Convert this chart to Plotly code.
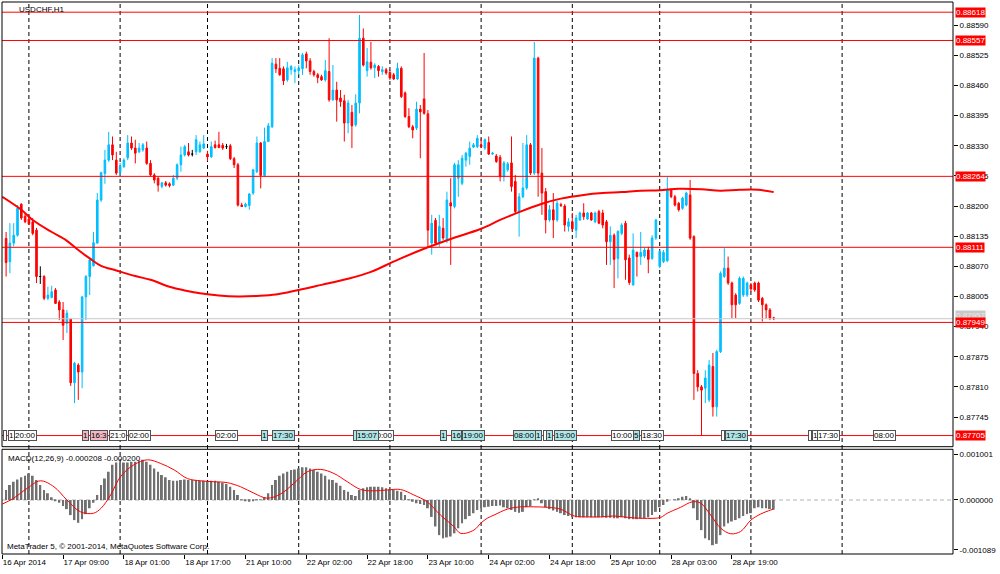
import plotly.graph_objects as go

# USDCHF H1, MetaTrader 5 style chart
# x axis = bar number (weekends are skipped like in MT5)

bars = list(range(1, 204))

open_ = [
    0.88130, 0.88080, 0.88120, 0.88137, 0.88204, 0.88178, 0.88172, 0.88166, 0.88148, 0.88048,
    0.88048, 0.88001, 0.88003, 0.88019, 0.87993, 0.87976, 0.87947, 0.87956, 0.87819, 0.87857,
    0.87842, 0.88004, 0.88048, 0.88071, 0.88120, 0.88213, 0.88270, 0.88299, 0.88332, 0.88299,
    0.88272, 0.88285, 0.88304, 0.88336, 0.88325, 0.88317, 0.88321, 0.88325, 0.88292, 0.88267,
    0.88260, 0.88242, 0.88250, 0.88248, 0.88245, 0.88260, 0.88289, 0.88310, 0.88317, 0.88312,
    0.88317, 0.88317, 0.88325, 0.88312, 0.88306, 0.88332, 0.88332, 0.88331, 0.88328, 0.88330,
    0.88302, 0.88289, 0.88202, 0.88199, 0.88201, 0.88228, 0.88274, 0.88336, 0.88266, 0.88339,
    0.88371, 0.88506, 0.88497, 0.88496, 0.88472, 0.88494, 0.88490, 0.88492, 0.88496, 0.88528,
    0.88513, 0.88490, 0.88483, 0.88479, 0.88472, 0.88490, 0.88429, 0.88450, 0.88433, 0.88427,
    0.88379, 0.88402, 0.88375, 0.88422, 0.88562, 0.88492, 0.88510, 0.88498, 0.88501, 0.88490,
    0.88494, 0.88488, 0.88483, 0.88474, 0.88497, 0.88444, 0.88393, 0.88371, 0.88368, 0.88409,
    0.88431, 0.88399, 0.88120, 0.88169, 0.88120, 0.88152, 0.88127, 0.88207, 0.88199, 0.88260,
    0.88249, 0.88299, 0.88307, 0.88327, 0.88328, 0.88332, 0.88325, 0.88337, 0.88312, 0.88308,
    0.88305, 0.88263, 0.88278, 0.88293, 0.88253, 0.88188, 0.88220, 0.88239, 0.88332, 0.88271,
    0.88519, 0.88271, 0.88231, 0.88170, 0.88192, 0.88170, 0.88203, 0.88200, 0.88156, 0.88166,
    0.88148, 0.88170, 0.88185, 0.88172, 0.88185, 0.88166, 0.88188, 0.88185, 0.88166, 0.88123,
    0.88137, 0.88087, 0.88141, 0.88163, 0.88088, 0.88030, 0.88100, 0.88091, 0.88092, 0.88105,
    0.88087, 0.88131, 0.88070, 0.88080, 0.88082, 0.88235, 0.88220, 0.88206, 0.88195, 0.88202,
    0.88224, 0.88134, 0.87839, 0.87810, 0.87807, 0.87782, 0.87854, 0.87767, 0.87886, 0.88048,
    0.88066, 0.88034, 0.88008, 0.87990, 0.88008, 0.88008, 0.88030, 0.88034, 0.88034, 0.88001,
    0.87987, 0.87976, 0.87959,
]
high = [
    0.88144, 0.88163, 0.88163, 0.88202, 0.88206, 0.88185, 0.88181, 0.88174, 0.88153, 0.88070,
    0.88051, 0.88026, 0.88028, 0.88023, 0.87997, 0.87993, 0.87976, 0.87957, 0.87864, 0.87861,
    0.88006, 0.88051, 0.88087, 0.88144, 0.88228, 0.88274, 0.88321, 0.88360, 0.88350, 0.88317,
    0.88293, 0.88303, 0.88353, 0.88350, 0.88343, 0.88336, 0.88336, 0.88339, 0.88299, 0.88271,
    0.88263, 0.88252, 0.88254, 0.88251, 0.88267, 0.88292, 0.88328, 0.88332, 0.88336, 0.88321,
    0.88353, 0.88339, 0.88353, 0.88319, 0.88339, 0.88341, 0.88360, 0.88336, 0.88334, 0.88334,
    0.88306, 0.88293, 0.88207, 0.88207, 0.88228, 0.88280, 0.88350, 0.88338, 0.88369, 0.88379,
    0.88519, 0.88519, 0.88519, 0.88501, 0.88511, 0.88504, 0.88501, 0.88504, 0.88530, 0.88533,
    0.88519, 0.88494, 0.88487, 0.88483, 0.88515, 0.88562, 0.88504, 0.88468, 0.88450, 0.88440,
    0.88429, 0.88418, 0.88441, 0.88612, 0.88583, 0.88541, 0.88554, 0.88508, 0.88504, 0.88501,
    0.88498, 0.88494, 0.88487, 0.88509, 0.88501, 0.88447, 0.88411, 0.88375, 0.88425, 0.88418,
    0.88530, 0.88407, 0.88181, 0.88174, 0.88181, 0.88174, 0.88231, 0.88260, 0.88293, 0.88299,
    0.88310, 0.88317, 0.88339, 0.88336, 0.88353, 0.88346, 0.88346, 0.88350, 0.88317, 0.88312,
    0.88310, 0.88297, 0.88295, 0.88350, 0.88267, 0.88228, 0.88336, 0.88353, 0.88336, 0.88554,
    0.88522, 0.88325, 0.88239, 0.88202, 0.88228, 0.88211, 0.88207, 0.88204, 0.88174, 0.88185,
    0.88181, 0.88188, 0.88206, 0.88187, 0.88187, 0.88188, 0.88192, 0.88192, 0.88170, 0.88156,
    0.88141, 0.88148, 0.88163, 0.88168, 0.88095, 0.88141, 0.88102, 0.88144, 0.88110, 0.88112,
    0.88137, 0.88172, 0.88105, 0.88105, 0.88263, 0.88238, 0.88224, 0.88209, 0.88220, 0.88231,
    0.88256, 0.88137, 0.87846, 0.87814, 0.87846, 0.87868, 0.87883, 0.87890, 0.88059, 0.88109,
    0.88091, 0.88037, 0.88012, 0.88048, 0.88048, 0.88037, 0.88034, 0.88037, 0.88037, 0.88004,
    0.87990, 0.87980, 0.87961,
]
low = [
    0.88048, 0.88055, 0.88113, 0.88134, 0.88170, 0.88163, 0.88159, 0.88137, 0.88034, 0.88032,
    0.87997, 0.87997, 0.88001, 0.87989, 0.87954, 0.87911, 0.87926, 0.87812, 0.87775, 0.87782,
    0.87807, 0.87954, 0.88008, 0.88070, 0.88120, 0.88209, 0.88248, 0.88295, 0.88299, 0.88267,
    0.88265, 0.88282, 0.88299, 0.88321, 0.88292, 0.88314, 0.88317, 0.88289, 0.88263, 0.88249,
    0.88231, 0.88238, 0.88242, 0.88240, 0.88243, 0.88256, 0.88274, 0.88307, 0.88307, 0.88307,
    0.88310, 0.88315, 0.88323, 0.88297, 0.88304, 0.88324, 0.88325, 0.88321, 0.88323, 0.88299,
    0.88282, 0.88199, 0.88198, 0.88197, 0.88192, 0.88224, 0.88271, 0.88238, 0.88263, 0.88338,
    0.88368, 0.88487, 0.88481, 0.88461, 0.88468, 0.88483, 0.88465, 0.88483, 0.88483, 0.88497,
    0.88483, 0.88479, 0.88465, 0.88470, 0.88468, 0.88425, 0.88427, 0.88382, 0.88414, 0.88339,
    0.88357, 0.88325, 0.88371, 0.88400, 0.88501, 0.88479, 0.88494, 0.88476, 0.88479, 0.88483,
    0.88483, 0.88472, 0.88472, 0.88472, 0.88433, 0.88390, 0.88368, 0.88346, 0.88364, 0.88303,
    0.88397, 0.88112, 0.88095, 0.88116, 0.88112, 0.88127, 0.88120, 0.88073, 0.88195, 0.88220,
    0.88245, 0.88285, 0.88289, 0.88325, 0.88325, 0.88325, 0.88321, 0.88310, 0.88310, 0.88293,
    0.88253, 0.88253, 0.88274, 0.88231, 0.88185, 0.88134, 0.88217, 0.88235, 0.88267, 0.88267,
    0.88220, 0.88181, 0.88141, 0.88166, 0.88131, 0.88166, 0.88198, 0.88145, 0.88145, 0.88146,
    0.88131, 0.88168, 0.88170, 0.88170, 0.88168, 0.88163, 0.88161, 0.88152, 0.88073, 0.88073,
    0.88023, 0.88044, 0.88137, 0.88041, 0.88030, 0.88028, 0.88048, 0.88073, 0.88088, 0.88055,
    0.88084, 0.88127, 0.88066, 0.88077, 0.88079, 0.88217, 0.88199, 0.88188, 0.88192, 0.88199,
    0.88127, 0.87782, 0.87800, 0.87705, 0.87775, 0.87777, 0.87746, 0.87746, 0.87883, 0.88045,
    0.88030, 0.87958, 0.87958, 0.87987, 0.88004, 0.88004, 0.88015, 0.88015, 0.87993, 0.87951,
    0.87958, 0.87954, 0.87954,
]
close = [
    0.88078, 0.88120, 0.88137, 0.88195, 0.88174, 0.88166, 0.88161, 0.88141, 0.88048, 0.88048,
    0.88001, 0.88008, 0.88015, 0.87990, 0.87976, 0.87943, 0.87969, 0.87819, 0.87861, 0.87842,
    0.88004, 0.88048, 0.88084, 0.88121, 0.88213, 0.88272, 0.88299, 0.88332, 0.88310, 0.88271,
    0.88286, 0.88299, 0.88336, 0.88325, 0.88314, 0.88325, 0.88332, 0.88292, 0.88267, 0.88256,
    0.88245, 0.88250, 0.88245, 0.88244, 0.88260, 0.88289, 0.88310, 0.88328, 0.88310, 0.88312,
    0.88343, 0.88332, 0.88334, 0.88306, 0.88328, 0.88326, 0.88326, 0.88325, 0.88328, 0.88302,
    0.88289, 0.88202, 0.88199, 0.88204, 0.88226, 0.88278, 0.88336, 0.88266, 0.88339, 0.88373,
    0.88508, 0.88496, 0.88483, 0.88470, 0.88498, 0.88501, 0.88494, 0.88497, 0.88526, 0.88513,
    0.88490, 0.88483, 0.88477, 0.88472, 0.88492, 0.88429, 0.88450, 0.88429, 0.88425, 0.88379,
    0.88422, 0.88373, 0.88422, 0.88562, 0.88504, 0.88511, 0.88498, 0.88504, 0.88492, 0.88494,
    0.88487, 0.88476, 0.88474, 0.88497, 0.88436, 0.88393, 0.88371, 0.88364, 0.88409, 0.88403,
    0.88400, 0.88148, 0.88163, 0.88120, 0.88156, 0.88131, 0.88213, 0.88200, 0.88289, 0.88289,
    0.88303, 0.88314, 0.88325, 0.88332, 0.88346, 0.88328, 0.88343, 0.88312, 0.88314, 0.88296,
    0.88263, 0.88293, 0.88291, 0.88242, 0.88188, 0.88220, 0.88239, 0.88332, 0.88271, 0.88519,
    0.88271, 0.88228, 0.88170, 0.88192, 0.88170, 0.88206, 0.88201, 0.88159, 0.88166, 0.88151,
    0.88174, 0.88185, 0.88177, 0.88185, 0.88170, 0.88185, 0.88163, 0.88159, 0.88123, 0.88137,
    0.88085, 0.88145, 0.88159, 0.88084, 0.88035, 0.88105, 0.88091, 0.88100, 0.88105, 0.88085,
    0.88131, 0.88170, 0.88102, 0.88100, 0.88235, 0.88220, 0.88202, 0.88192, 0.88217, 0.88228,
    0.88131, 0.87839, 0.87810, 0.87803, 0.87829, 0.87857, 0.87767, 0.87886, 0.88055, 0.88066,
    0.88034, 0.87987, 0.87987, 0.88044, 0.88044, 0.88034, 0.88021, 0.88019, 0.87997, 0.87987,
    0.87976, 0.87958, 0.87957,
]

# moving average drawn on the price chart (read at a few bars)
ma_bar = [0, 5, 8, 13, 17, 20, 23, 26, 30, 35, 39, 44, 48, 52, 57, 62, 67, 72, 78, 84, 91,
          97, 104, 112, 118, 126, 131, 136, 142, 147, 153, 158, 163, 168, 173, 178, 184,
          189, 194, 199, 203]
ma_val = [0.88220, 0.88192, 0.88170, 0.88144, 0.88125, 0.88105, 0.88087, 0.88071, 0.88061,
          0.88049, 0.88041, 0.88026, 0.88018, 0.88012, 0.88007, 0.88005, 0.88006, 0.88009,
          0.88019, 0.88030, 0.88043, 0.88058, 0.88084, 0.88111, 0.88129, 0.88151, 0.88170,
          0.88187, 0.88205, 0.88216, 0.88224, 0.88228, 0.88230, 0.88233, 0.88234, 0.88237,
          0.88236, 0.88233, 0.88235, 0.88235, 0.88230]

# MACD(12,26,9) main line, one value per bar
macd_hist = [
    0.00022, 0.00033, 0.00040, 0.00045, 0.00050, 0.00053, 0.00058, 0.00053, 0.00044, 0.00033,
    0.00022, 0.00015, 0.00006, -0.00001, -0.00006, -0.00013, -0.00020, -0.00033, -0.00044, -0.00050,
    -0.00042, -0.00031, -0.00018, -0.00006, 0.00011, 0.00033, 0.00047, 0.00062, 0.00077, 0.00082,
    0.00082, 0.00082, 0.00082, 0.00084, 0.00084, 0.00086, 0.00088, 0.00084, 0.00077, 0.00069,
    0.00062, 0.00055, 0.00050, 0.00044, 0.00042, 0.00042, 0.00044, 0.00045, 0.00044, 0.00044,
    0.00044, 0.00042, 0.00042, 0.00042, 0.00042, 0.00042, 0.00040, 0.00038, 0.00035, 0.00029,
    0.00022, 0.00011, 0.00001, -0.00002, -0.00004, -0.00001, 0.00001, 0.00001, 0.00006, 0.00015,
    0.00033, 0.00044, 0.00053, 0.00058, 0.00062, 0.00066, 0.00067, 0.00069, 0.00072, 0.00072,
    0.00069, 0.00066, 0.00062, 0.00058, 0.00053, 0.00045, 0.00044, 0.00038, 0.00031, 0.00022,
    0.00018, 0.00011, 0.00009, 0.00022, 0.00026, 0.00028, 0.00029, 0.00029, 0.00029, 0.00028,
    0.00026, 0.00023, 0.00022, 0.00020, 0.00018, 0.00011, 0.00001, -0.00004, -0.00007, -0.00009,
    -0.00011, -0.00018, -0.00037, -0.00058, -0.00077, -0.00084, -0.00082, -0.00080, -0.00073, -0.00062,
    -0.00051, -0.00042, -0.00035, -0.00029, -0.00022, -0.00018, -0.00016, -0.00015, -0.00013, -0.00013,
    -0.00012, -0.00016, -0.00018, -0.00022, -0.00026, -0.00028, -0.00026, -0.00016, -0.00013, 0.00001,
    0.00002, -0.00007, -0.00016, -0.00020, -0.00023, -0.00026, -0.00029, -0.00033, -0.00035, -0.00038,
    -0.00038, -0.00038, -0.00038, -0.00038, -0.00038, -0.00038, -0.00038, -0.00038, -0.00039, -0.00039,
    -0.00040, -0.00040, -0.00038, -0.00040, -0.00042, -0.00042, -0.00042, -0.00041, -0.00040, -0.00038,
    -0.00033, -0.00026, -0.00016, -0.00011, -0.00004, 0.00000, 0.00001, 0.00004, 0.00007, 0.00009,
    0.00004, -0.00018, -0.00044, -0.00066, -0.00084, -0.00088, -0.00099, -0.00096, -0.00077, -0.00058,
    -0.00051, -0.00047, -0.00044, -0.00040, -0.00035, -0.00031, -0.00029, -0.00018, -0.00016, -0.00018,
    -0.00018, -0.00020, -0.000208,
]

# MACD signal line (read at a few positions)
sig_bar = [0, 3, 6.6, 10, 13.6, 17, 20.6, 24, 26, 28.5, 31.1, 34.6, 38.2, 41.7, 45.2, 48.7,
           52.2, 55.7, 59.2, 62.7, 66.2, 69.7, 73.2, 76.8, 80.3, 83.8, 87.3, 90.8, 94.3, 97.8,
           101.3, 104.8, 108.3, 111.8, 115.3, 118.8, 120.6, 124.1, 125.9, 127.6, 129.4, 132.9,
           136.4, 139.9, 143.4, 146.9, 150.5, 154, 157.5, 161, 164.5, 168, 171.5, 173.3, 175,
           178.5, 181.6, 183.8, 186.4, 189.1, 191.7, 194.3, 197, 199.5, 202.2, 203]
sig_val = [-0.00009, 0.00004, 0.00026, 0.00042, 0.00029, 0.00000, -0.00026, -0.00029, -0.00018,
           0.00011, 0.00051, 0.00077, 0.00088, 0.00080, 0.00066, 0.00047, 0.00042, 0.00040,
           0.00038, 0.00029, 0.00015, 0.00004, 0.00013, 0.00037, 0.00062, 0.00067, 0.00058,
           0.00040, 0.00023, 0.00020, 0.00022, 0.00023, 0.00011, -0.00004, -0.00033, -0.00058,
           -0.00073, -0.00066, -0.00051, -0.00040, -0.00033, -0.00020, -0.00015, -0.00015,
           -0.00016, -0.00020, -0.00035, -0.00037, -0.00037, -0.00035, -0.00038, -0.00040,
           -0.00040, -0.00038, -0.00029, -0.00016, -0.00004, -0.00007, -0.00033, -0.00062,
           -0.00074, -0.00069, -0.00044, -0.00031, -0.00022, -0.00020]

# horizontal lines
red_levels = [0.88618, 0.88557, 0.88264, 0.88111, 0.87949, 0.87705]
bid_level = 0.87957

# day separators (midnight bars)
day_bars = [7, 31, 54, 78, 102, 126, 150, 173, 197, 221]

# time axis
tick_bars = [0, 16, 32, 48, 64, 80, 96, 112, 128, 144, 160, 176, 192]
tick_text = ["16 Apr 2014", "17 Apr 09:00", "18 Apr 01:00", "18 Apr 17:00", "21 Apr 10:00",
             "22 Apr 02:00", "22 Apr 18:00", "23 Apr 10:00", "24 Apr 02:00", "24 Apr 18:00",
             "25 Apr 10:00", "28 Apr 03:00", "28 Apr 19:00"]

price_ticks = [0.88590, 0.88525, 0.88460, 0.88395, 0.88330, 0.88265, 0.88200, 0.88135,
               0.88070, 0.88005, 0.87940, 0.87875, 0.87810, 0.87745]
macd_ticks = [0.001001, 0.0, -0.001089]
macd_tick_text = ["0.001001", "0.000000", "-0.001089"]

# economic calendar markers (drawing order, later ones on top)
event_bar = [0.3, 1.4, 3.2, 21.1, 23.0, 28.0, 33.2, 56.1, 68.2, 71.1, 92.2, 97.0, 93.2,
             115.1, 118.0, 121.1, 134.3, 140.1, 142.2, 143.2, 145.1, 160.1, 165.9, 168.0,
             189.0, 190.1, 211.9, 213.2, 214.5, 229.0]
event_text = [" ", "1", "20:00", "1", "16:3", "21:0", "02:00", "02:00", "1", "17:30", " ",
              "20:00", "15:07", "1", "16", "19:00", "08:00", "1", " ", "1", "19:00", "10:00",
              "5", "18:30", " ", "17:30", " ", "1", "17:30", "08:00"]
event_kind = ["w", "w", "w", "p", "p", "w", "w", "w", "c", "c", "c", "w", "c", "c", "c", "c",
              "c", "c", "w", "c", "c", "w", "c", "w", "w", "c", "w", "w", "w", "w"]
kind_color = {"w": "#ffffff", "p": "#f4b8c2", "c": "#aee6e8"}

UP = "#00bfff"
DOWN = "#ff0000"
FONT = "Liberation Sans"

fig = go.Figure()

normal = [i for i in range(len(bars)) if open_[i] != close[i]]
doji = [i for i in range(len(bars)) if open_[i] == close[i]]

fig.add_trace(go.Candlestick(
    x=[bars[i] for i in normal],
    open=[open_[i] for i in normal], high=[high[i] for i in normal],
    low=[low[i] for i in normal], close=[close[i] for i in normal],
    increasing=dict(line=dict(color=UP, width=1), fillcolor=UP),
    decreasing=dict(line=dict(color=DOWN, width=1), fillcolor=DOWN),
    whiskerwidth=0, xaxis="x", yaxis="y"))

fig.add_trace(go.Candlestick(
    x=[bars[i] for i in doji],
    open=[open_[i] for i in doji], high=[high[i] for i in doji],
    low=[low[i] for i in doji], close=[close[i] for i in doji],
    increasing=dict(line=dict(color="black", width=1), fillcolor="black"),
    decreasing=dict(line=dict(color="black", width=1), fillcolor="black"),
    whiskerwidth=0, xaxis="x", yaxis="y"))

fig.add_trace(go.Scatter(x=ma_bar, y=ma_val, mode="lines",
                         line=dict(color=DOWN, width=2, shape="spline"),
                         xaxis="x", yaxis="y"))

fig.add_trace(go.Bar(x=bars, y=macd_hist, width=0.5, marker=dict(color="#707070", line_width=0),
                     xaxis="x", yaxis="y2"))
fig.add_trace(go.Scatter(x=sig_bar, y=sig_val, mode="lines",
                         line=dict(color=DOWN, width=1, shape="spline"),
                         xaxis="x", yaxis="y2"))

shapes = []
for b in day_bars:
    shapes.append(dict(type="line", xref="x", yref="paper", x0=b, x1=b, y0=0, y1=1,
                       line=dict(color="black", width=1, dash="4px,3px"), layer="below"))
shapes.append(dict(type="line", xref="x domain", yref="y2", x0=0, x1=1, y0=0, y1=0,
                   line=dict(color="#b4b4b4", width=1, dash="4px,3px"), layer="below"))
shapes.append(dict(type="line", xref="x domain", yref="y", x0=0, x1=1, y0=bid_level,
                   y1=bid_level, line=dict(color="#c8c8c8", width=1)))
for lv in red_levels:
    shapes.append(dict(type="line", xref="x domain", yref="y", x0=0, x1=1, y0=lv, y1=lv,
                       line=dict(color=DOWN, width=1)))
for yd in ["y domain", "y2 domain"]:
    shapes.append(dict(type="rect", xref="x domain", yref=yd, x0=0, x1=1, y0=0, y1=1,
                       line=dict(color="black", width=1), fillcolor="rgba(0,0,0,0)"))

annotations = []
for b, t, k in zip(event_bar, event_text, event_kind):
    annotations.append(dict(x=b, y=0.87705, xref="x", yref="y", xanchor="left",
                            yanchor="middle", text=t, showarrow=False,
                            font=dict(family=FONT, size=8, color="black"),
                            bgcolor=kind_color[k], bordercolor="#505050", borderwidth=1,
                            borderpad=0))

annotations.append(dict(x=1, y=bid_level, xref="paper", yref="y", xanchor="left", xshift=2,
                        yanchor="bottom", yshift=-2, text="0.87957", showarrow=False,
                        font=dict(family=FONT, size=8, color="#e8e8e8"),
                        bgcolor="#c8c8c8", borderpad=0))
for lv in red_levels:
    annotations.append(dict(x=1, y=lv, xref="paper", yref="y", xanchor="left", xshift=2,
                            yanchor="middle", text=f"{lv:.5f}", showarrow=False,
                            font=dict(family=FONT, size=8, color="white"),
                            bgcolor=DOWN, borderpad=0))

annotations.append(dict(x=0.0158, y=0.9864, xref="paper", yref="paper", xanchor="left",
                        yanchor="middle", text="USDCHF,H1", showarrow=False,
                        font=dict(family=FONT, size=8, color="black")))
annotations.append(dict(x=0.0042, y=0.1739, xref="paper", yref="paper", xanchor="left",
                        yanchor="middle", text="MACD(12,26,9) -0.000208 -0.000200",
                        showarrow=False, font=dict(family=FONT, size=8, color="black")))
annotations.append(dict(x=0.0032, y=0.0127, xref="paper", yref="paper", xanchor="left",
                        yanchor="middle",
                        text="MetaTrader 5, © 2001-2014, MetaQuotes Software Corp.",
                        showarrow=False, font=dict(family=FONT, size=8, color="black")))

fig.update_layout(
    width=1000, height=574,
    margin=dict(l=2, r=47, t=2, b=20, autoexpand=False),
    paper_bgcolor="white", plot_bgcolor="white",
    showlegend=False, hovermode=False,
    font=dict(family=FONT, size=8, color="black"),
    boxgap=0.4,
    xaxis=dict(range=[-0.08, 250.18], anchor="y2", tickvals=tick_bars, ticktext=tick_text,
               ticks="outside", ticklen=4, tickcolor="black", ticklabelposition="outside right",
               showgrid=False, zeroline=False, showline=False, automargin=False,
               rangeslider=dict(visible=False), fixedrange=True),
    yaxis=dict(domain=[0.1944, 1], range=[0.87681, 0.88640], side="right", anchor="x",
               tickvals=price_ticks, ticktext=[f"{v:.5f}" for v in price_ticks],
               ticks="outside", ticklen=4, tickcolor="black", automargin=False,
               showgrid=False, zeroline=False, showline=False),
    yaxis2=dict(domain=[0, 0.1897], range=[-0.001183, 0.001111], side="right", anchor="x",
                tickvals=macd_ticks, ticktext=macd_tick_text, automargin=False,
                ticks="outside", ticklen=4, tickcolor="black",
                showgrid=False, zeroline=False, showline=False),
    shapes=shapes,
    annotations=annotations,
)

# the page body has a default 8px margin; drop it so the chart sits at the window corner
fig.write_html("out.html", config={"displayModeBar": False},
               post_script="document.body.style.margin='0px';")
